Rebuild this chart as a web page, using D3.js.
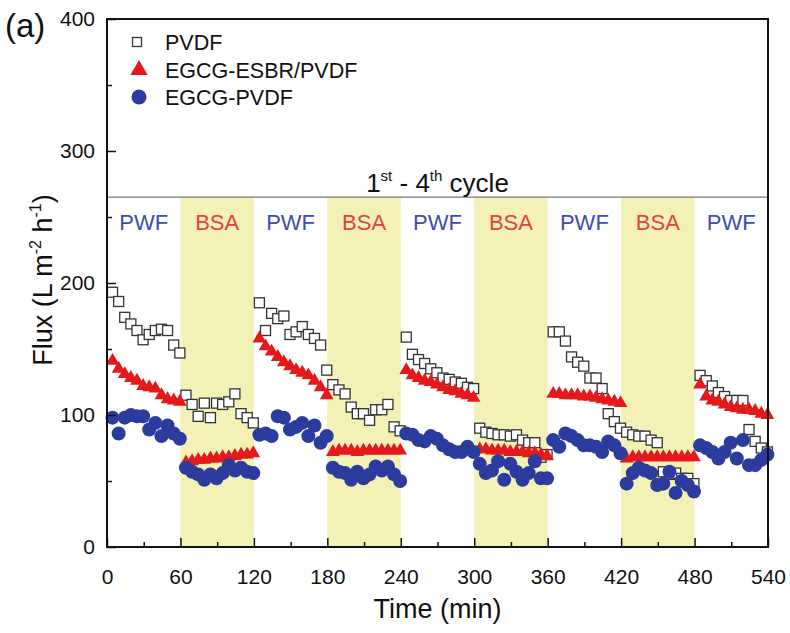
<!DOCTYPE html>
<html>
<head>
<meta charset="utf-8">
<script src="https://cdn.jsdelivr.net/npm/d3@7"></script>
<style>
  body { margin: 0; background: #fff; }
  svg { display: block; }
  text { font-family: "Liberation Sans", Arial, sans-serif; fill: #111; }
</style>
</head>
<body>
<svg id="chart" width="790" height="633"></svg>
<script>
// Filtration phases: pure water flux (PWF) alternating with BSA solution
const phases = ["PWF", "BSA", "PWF", "BSA", "PWF", "BSA", "PWF", "BSA", "PWF"];
const phaseStart = [0, 60, 120, 180, 240, 300, 360, 420, 480];
const phaseLength = 60;
// sampling times (min) inside each 60-min phase
const sampleOffsets = [4.5, 9.5, 14.5, 19.5, 24.5, 29.5, 34.5, 39.5, 44.5, 49.5, 54.5, 59.5];

const xMajorTicks = [0, 60, 120, 180, 240, 300, 360, 420, 480, 540];
const xMinorTicks = [30, 90, 150, 210, 270, 330, 390, 450, 510];
const yMajorTicks = [0, 100, 200, 300, 400];
const yMinorTicks = [50, 150, 250, 350];
const cycleLevel = 265;

// Flux (L m-2 h-1), one row per phase
const fluxPVDF = [
  [193, 186, 174, 169, 164, 157, 161, 164, 165, 164, 153, 147],
  [115, 108, 99, 109, 98, 109, 108, 110, 116, 101, 98, 94],
  [185, 164, 177, 173, 175, 161, 163, 167, 161, 158, 153, 134],
  [123, 119, 116, 106, 101, 101, 96, 104, 104, 108, 91, 88],
  [159, 146, 142, 139, 135, 132, 128, 127, 125, 124, 121, 120],
  [90, 87, 86, 85, 85, 84, 85, 81, 79, 79, 68, 70],
  [163, 163, 156, 144, 140, 137, 128, 128, 120, 101, 95, 90],
  [87, 85, 84, 84, 81, 79, 57, 55, 56, 52, 52, 48],
  [130, 126, 122, 117, 114, 111, 111, 111, 89, 80, 75, 72]
];
const fluxESBR = [
  [141, 135, 131, 128, 126, 122, 121, 120, 115, 112, 111, 110],
  [64, 65, 66, 66, 67, 67, 68, 68, 69, 70, 70, 71],
  [158, 152, 148, 144, 140, 137, 134, 132, 130, 126, 121, 115],
  [72, 73, 73, 73, 72, 73, 73, 73, 73, 73, 73, 73],
  [134, 130, 128, 126, 125, 123, 121, 119, 118, 116, 115, 113],
  [74, 74, 73, 73, 73, 72, 72, 72, 71, 71, 70, 69],
  [116, 116, 115, 115, 115, 114, 114, 113, 112, 111, 110, 109],
  [67, 68, 68, 68, 68, 68, 68, 68, 68, 68, 68, 68],
  [123, 114, 111, 110, 108, 106, 105, 104, 104, 103, 101, 100]
];
const fluxEGCG = [
  [98, 86, 98, 100, 99, 99, 89, 94, 84, 92, 86, 82],
  [60, 57, 55, 51, 55, 52, 56, 62, 58, 60, 57, 56],
  [85, 86, 84, 99, 98, 89, 91, 94, 84, 92, 79, 84],
  [60, 57, 56, 51, 57, 52, 55, 61, 58, 61, 55, 50],
  [86, 85, 81, 80, 84, 82, 77, 74, 72, 72, 76, 72],
  [63, 56, 58, 65, 51, 63, 57, 51, 56, 65, 52, 52],
  [81, 76, 86, 84, 81, 77, 77, 76, 72, 80, 77, 71],
  [48, 56, 60, 58, 56, 47, 48, 57, 41, 50, 47, 42],
  [77, 75, 72, 67, 72, 79, 67, 81, 62, 62, 66, 70]
];

const seriesNames = ["PVDF", "EGCG-ESBR/PVDF", "EGCG-PVDF"];

const svg = d3.select("#chart");
const plotLeft = 107, plotRight = 768, plotTop = 19, plotBottom = 547;

const x = d3.scaleLinear().domain([0, 540]).range([plotLeft, plotRight]);
const y = d3.scaleLinear().domain([0, 400]).range([plotBottom, plotTop]);

const toPoints = rows => rows.flatMap((row, i) =>
  row.map((v, j) => ({ t: phaseStart[i] + sampleOffsets[j], v })));

// BSA bands below the cycle line
svg.append("g").selectAll("rect")
  .data(phases.map((p, i) => ({ p, s: phaseStart[i] })).filter(d => d.p === "BSA"))
  .join("rect")
  .attr("x", d => x(d.s))
  .attr("width", d => x(d.s + phaseLength) - x(d.s))
  .attr("y", y(cycleLevel))
  .attr("height", y(0) - y(cycleLevel))
  .attr("fill", "#f4f1b6");

// cycle separator line
svg.append("line")
  .attr("x1", x(0)).attr("x2", x(540))
  .attr("y1", y(cycleLevel)).attr("y2", y(cycleLevel))
  .attr("stroke", "#777").attr("stroke-width", 1.2);

// phase labels
svg.append("g").selectAll("text")
  .data(phases.map((p, i) => ({ p, s: phaseStart[i] })))
  .join("text")
  .attr("x", d => x(d.s + phaseLength / 2))
  .attr("y", 230)
  .attr("text-anchor", "middle")
  .attr("font-size", 22)
  .style("fill", d => d.p === "PWF" ? "#3c4db3" : "#e2433d")
  .text(d => d.p);

// cycle caption
const cap = svg.append("text")
  .attr("x", x(270)).attr("y", 192)
  .attr("text-anchor", "middle")
  .attr("font-size", 26);
cap.append("tspan").text("1");
cap.append("tspan").attr("font-size", 15).attr("dy", "-0.75em").text("st");
cap.append("tspan").attr("dy", "0.43em").text(" - 4");
cap.append("tspan").attr("font-size", 15).attr("dy", "-0.75em").text("th");
cap.append("tspan").attr("dy", "0.43em").text(" cycle");

// symbols
const triPath = size => d3.symbol().type(d3.symbolTriangle).size(size)();
const sqSide = 10;

const gP = svg.append("g");
gP.selectAll("rect")
  .data(toPoints(fluxPVDF))
  .join("rect")
  .attr("x", d => x(d.t) - sqSide / 2)
  .attr("y", d => y(d.v) - sqSide / 2)
  .attr("width", sqSide).attr("height", sqSide)
  .attr("fill", "#fff").attr("stroke", "#333").attr("stroke-width", 1.3);

const gE = svg.append("g");
gE.selectAll("path")
  .data(toPoints(fluxESBR))
  .join("path")
  .attr("d", triPath(82))
  .attr("transform", d => `translate(${x(d.t)},${y(d.v)})`)
  .attr("fill", "#e5181b");

const gC = svg.append("g");
gC.selectAll("circle")
  .data(toPoints(fluxEGCG))
  .join("circle")
  .attr("cx", d => x(d.t)).attr("cy", d => y(d.v))
  .attr("r", 7)
  .attr("fill", "#2b3c9e");

// axes with inward ticks
const xAxis = svg.append("g").attr("transform", `translate(0,${plotBottom})`)
  .call(d3.axisBottom(x).tickValues(xMajorTicks).tickSizeInner(-9).tickSizeOuter(0).tickPadding(22));
svg.append("g").attr("transform", `translate(0,${plotBottom})`)
  .call(d3.axisBottom(x).tickValues(xMinorTicks).tickSizeInner(-5).tickSizeOuter(0).tickFormat(""));
const yAxis = svg.append("g").attr("transform", `translate(${plotLeft},0)`)
  .call(d3.axisLeft(y).tickValues(yMajorTicks).tickSizeInner(-9).tickSizeOuter(0).tickPadding(12));
svg.append("g").attr("transform", `translate(${plotLeft},0)`)
  .call(d3.axisLeft(y).tickValues(yMinorTicks).tickSizeInner(-5).tickSizeOuter(0).tickFormat(""));

svg.selectAll(".domain").remove();
svg.selectAll(".tick line").attr("stroke", "#111").attr("stroke-width", 1.5);
xAxis.selectAll("text").attr("font-size", 21).style("font-family", "'Liberation Sans', Arial, sans-serif");
yAxis.selectAll("text").attr("font-size", 21).style("font-family", "'Liberation Sans', Arial, sans-serif");

// plot frame
svg.append("rect")
  .attr("x", plotLeft).attr("y", plotTop)
  .attr("width", plotRight - plotLeft).attr("height", plotBottom - plotTop)
  .attr("fill", "none").attr("stroke", "#111").attr("stroke-width", 2);

// legend
const legend = svg.append("g");
const legY = [42, 70, 97];
legend.append("rect")
  .attr("x", 137 - 4.5).attr("y", legY[0] - 4.5)
  .attr("width", 9).attr("height", 9)
  .attr("fill", "#fff").attr("stroke", "#333").attr("stroke-width", 1.3);
legend.append("path")
  .attr("d", triPath(130))
  .attr("transform", `translate(139,${legY[1]})`)
  .attr("fill", "#e5181b");
legend.append("circle")
  .attr("cx", 139).attr("cy", legY[2]).attr("r", 7.5)
  .attr("fill", "#2b3c9e");
legend.selectAll("text")
  .data(seriesNames)
  .join("text")
  .attr("x", 165)
  .attr("y", (d, i) => legY[i] + 8)
  .attr("font-size", 21.5)
  .text(d => d);

// axis titles
const yt = svg.append("text")
  .attr("transform", "translate(52,280) rotate(-90)")
  .attr("text-anchor", "middle")
  .attr("font-size", 27);
yt.append("tspan").text("Flux (L m");
yt.append("tspan").attr("font-size", 16).attr("dy", "-0.7em").text("-2");
yt.append("tspan").attr("dy", "0.42em").text(" h");
yt.append("tspan").attr("font-size", 16).attr("dy", "-0.7em").text("-1");
yt.append("tspan").attr("dy", "0.42em").text(")");

svg.append("text")
  .attr("x", x(270)).attr("y", 618)
  .attr("text-anchor", "middle")
  .attr("font-size", 27)
  .text("Time (min)");

// panel tag
svg.append("text")
  .attr("x", 5).attr("y", 37)
  .attr("font-size", 33)
  .text("(a)");
</script>
</body>
</html>
